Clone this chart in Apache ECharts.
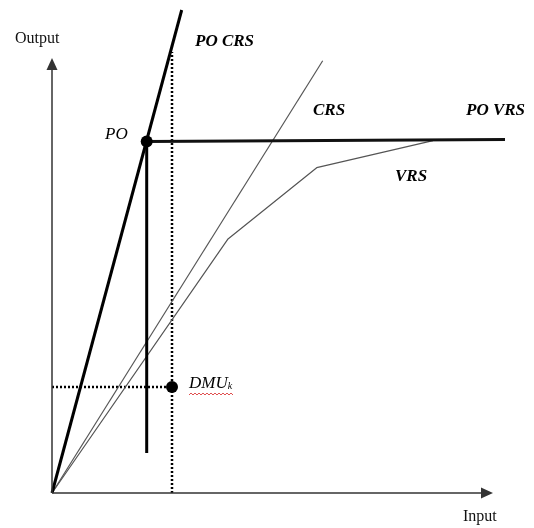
<!DOCTYPE html>
<html><head><meta charset="utf-8">
<script src="https://cdn.jsdelivr.net/npm/echarts@6/dist/echarts.min.js"></script>
<style>html,body{margin:0;padding:0;background:#fff}#c{width:534px;height:528px}</style>
</head><body><div id="c"></div>
<script>
// Data in diagram units (Input, Output)
const poCRS = [[0,0],[129.7,483]];
const crs = [[0,0],[270.7,432.3]];
const vrs = [[0,0],[175.7,253.7],[264.7,325.3],[381,352.3]];
const poVRS = [[94.7,351.5],[453,353.5]];
const poDrop = [[94.7,351.5],[94.7,40]];
const dmuVertical = [[120,0],[120,441]];
const dmuHorizontal = [[0,106],[120,106]];
const poPoint = [[94.7,351.5]];
const dmuPoint = [[120,106]];
const xAxisEnd = [[0,0],[435,0]];
const yAxisEnd = [[0,0],[0,429]];

const serif = '"Liberation Serif","DejaVu Serif",serif';
const chart = echarts.init(document.getElementById('c'), null, {renderer:'canvas'});
function lineS(data, width, color, type){
  return {type:'line', data, symbol:'none', silent:true, z:2,
    lineStyle:{width, color, type: type||'solid', cap:'butt'}};
}
const wave = [];
for (let i = 0; i <= 22; i++) wave.push([189 + i*2, 394 + (i%2 ? -1 : 1)]);
chart.setOption({
  animation:false,
  grid:{left:52, top:10, width:453, height:483, containLabel:false},
  xAxis:{type:'value', min:0, max:453, show:false},
  yAxis:{type:'value', min:0, max:483, show:false},
  series:[
    {type:'line', data:[], symbol:'none', silent:true,
      markLine:{silent:true, symbol:['none','triangle'], symbolSize:[11,12], label:{show:false},
        lineStyle:{color:'#333', width:1.5, type:'solid'},
        data:[
          [{coord:xAxisEnd[0]},{coord:xAxisEnd[1]}],
          [{coord:yAxisEnd[0]},{coord:yAxisEnd[1]}]
        ]}},
    lineS(dmuVertical, 2.5, '#000', [2,2]),
    lineS(dmuHorizontal, 2.5, '#000', [2,2]),
    lineS(crs, 1.2, '#555'),
    lineS(vrs, 1.2, '#555'),
    lineS(poCRS, 3, '#000'),
    lineS(poVRS, 3, '#111'),
    lineS(poDrop, 3, '#000'),
    {type:'scatter', data:poPoint, symbolSize:12, itemStyle:{color:'#000', opacity:1}, z:5},
    {type:'scatter', data:dmuPoint, symbolSize:12, itemStyle:{color:'#000', opacity:1}, z:5}
  ],
  graphic:[
    {type:'text', left:15, top:31, style:{text:'Output', font:'16px '+serif, fill:'#111'}},
    {type:'text', left:463, top:509, style:{text:'Input', font:'16px '+serif, fill:'#111'}},
    {type:'text', left:195, top:33, style:{text:'PO CRS', font:'italic bold 17px '+serif, fill:'#000'}},
    {type:'text', left:313, top:102, style:{text:'CRS', font:'italic bold 17px '+serif, fill:'#000'}},
    {type:'text', left:466, top:102, style:{text:'PO VRS', font:'italic bold 17px '+serif, fill:'#000'}},
    {type:'text', left:395, top:168, style:{text:'VRS', font:'italic bold 17px '+serif, fill:'#000'}},
    {type:'text', left:105, top:126, style:{text:'PO', font:'italic 17px '+serif, fill:'#000'}},
    {type:'text', left:189, top:375, style:{text:'{a|DMU}{b|k}', rich:{
      a:{font:'italic 17px '+serif, fill:'#000'},
      b:{font:'italic 10px '+serif, fill:'#000', padding:[6,0,0,0]}}}},
    {type:'polyline', shape:{points:wave}, style:{stroke:'#e05050', lineWidth:1, fill:null}, z:1}
  ]
});
</script></body></html>
